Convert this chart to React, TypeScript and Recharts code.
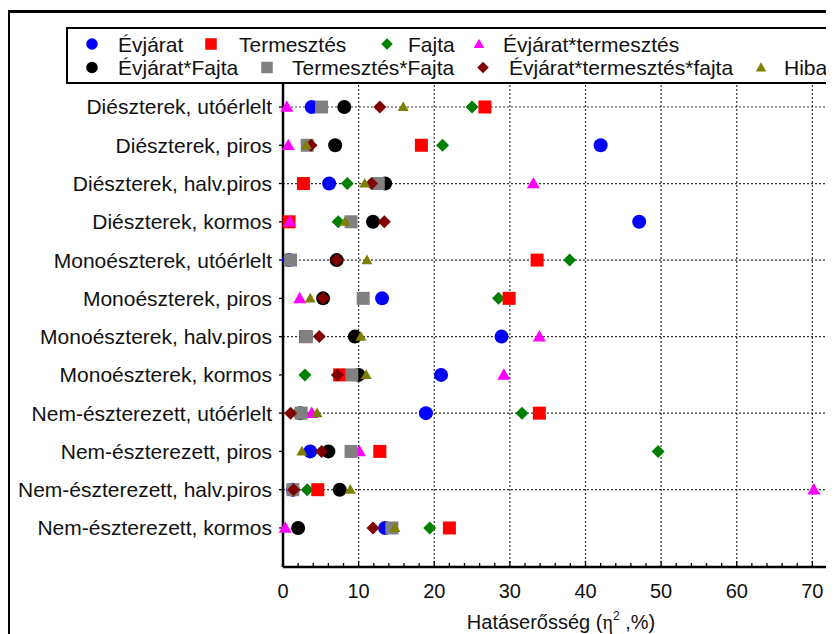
import React from 'react';
import { ScatterChart, Scatter, XAxis, YAxis, ReferenceLine, Legend } from 'recharts';

const FONT = '"Liberation Sans", Arial, Helvetica, sans-serif';

const categories = [
  'Diészterek, utóérlelt',
  'Diészterek, piros',
  'Diészterek, halv.piros',
  'Diészterek, kormos',
  'Monoészterek, utóérlelt',
  'Monoészterek, piros',
  'Monoészterek, halv.piros',
  'Monoészterek, kormos',
  'Nem-észterezett, utóérlelt',
  'Nem-észterezett, piros',
  'Nem-észterezett, halv.piros',
  'Nem-észterezett, kormos',
];

const evjarat = [3.8, 42.0, 6.1, 47.1, 0.8, 13.1, 28.9, 20.9, 18.9, 3.6, 1.3, 13.5];
const termesztes = [26.7, 18.3, 2.7, 0.8, 33.6, 29.9, 3.0, 7.5, 33.9, 12.8, 4.6, 22.0];
const fajta = [25.0, 21.1, 8.5, 7.3, 37.9, 28.5, 3.1, 2.9, 31.6, 49.6, 3.2, 19.4];
const evjTerm = [0.5, 0.7, 33.1, 0.9, 0.9, 2.2, 33.9, 29.2, 3.8, 10.1, 70.2, 0.3];
const evjFajta = [8.1, 6.9, 13.5, 11.9, 7.1, 5.3, 9.5, 10.0, 2.3, 6.0, 7.5, 2.0];
const termFajta = [5.1, 3.2, 12.6, 9.0, 1.0, 10.6, 3.1, 9.1, 2.4, 9.0, 1.3, 14.4];
const evjTermFajta = [12.8, 3.7, 11.7, 13.4, 7.1, 5.3, 4.8, 7.2, 1.0, 5.1, 1.4, 11.9];
const hiba = [15.9, 3.1, 10.8, 8.2, 11.1, 3.6, 10.3, 11.0, 4.5, 2.5, 8.9, 14.8];

const xTicks = [0, 2, 4, 6, 8, 10, 12, 14, 16, 18, 20, 22, 24, 26, 28, 30, 32, 34, 36, 38, 40, 42, 44, 46, 48, 50, 52, 54, 56, 58, 60, 62, 64, 66, 68, 70, 72, 74, 76, 78, 80];
const xLabelTicks = [0, 10, 20, 30, 40, 50, 60, 70];
const xGridValues = [10, 20, 30, 40, 50, 60, 70, 80];
const yTicks = [1, 2, 3, 4, 5, 6, 7, 8, 9, 10, 11, 12];
const yGridRows = [1, 3, 5, 7, 9, 11];

type Kind = 'circle' | 'square' | 'diamond' | 'triangle';

interface SeriesDef {
  name: string;
  values: number[];
  color: string;
  kind: Kind;
  size: number;
}

const series: SeriesDef[] = [
  { name: 'Évjárat', values: evjarat, color: '#0000FF', kind: 'circle', size: 14 },
  { name: 'Termesztés', values: termesztes, color: '#FF0000', kind: 'square', size: 13 },
  { name: 'Fajta', values: fajta, color: '#008000', kind: 'diamond', size: 13 },
  { name: 'Évjárat*termesztés', values: evjTerm, color: '#FF00FF', kind: 'triangle', size: 13 },
  { name: 'Évjárat*Fajta', values: evjFajta, color: '#000000', kind: 'circle', size: 14 },
  { name: 'Termesztés*Fajta', values: termFajta, color: '#808080', kind: 'square', size: 13 },
  { name: 'Évjárat*termesztés*fajta', values: evjTermFajta, color: '#800000', kind: 'diamond', size: 13 },
  { name: 'Hiba', values: hiba, color: '#808000', kind: 'triangle', size: 11 },
];

const drawOrder = [0, 2, 1, 3, 4, 5, 6, 7];

function markerElement(kind: Kind, cx: number, cy: number, size: number, color: string, key?: string) {
  const h = size / 2;
  if (kind === 'circle') return <circle key={key} cx={cx} cy={cy} r={h} fill={color} />;
  if (kind === 'square') return <rect key={key} x={cx - h} y={cy - h} width={size} height={size} fill={color} />;
  if (kind === 'diamond')
    return <polygon key={key} points={`${cx},${cy - h} ${cx + h},${cy} ${cx},${cy + h} ${cx - h},${cy}`} fill={color} />;
  const th = size * 0.88;
  return (
    <polygon
      key={key}
      points={`${cx},${cy - th * 0.58} ${cx + h},${cy + th * 0.42} ${cx - h},${cy + th * 0.42}`}
      fill={color}
    />
  );
}

const legendRows = [
  [
    { idx: 0, mx: 24, tx: 50 },
    { idx: 1, mx: 143, tx: 171 },
    { idx: 2, mx: 319, tx: 340 },
    { idx: 3, mx: 411, tx: 435 },
  ],
  [
    { idx: 4, mx: 24, tx: 50 },
    { idx: 5, mx: 199, tx: 224 },
    { idx: 6, mx: 415, tx: 441 },
    { idx: 7, mx: 693, tx: 716 },
  ],
];

function LegendContent() {
  const rowY = [15, 38.5];
  return (
    <div
      style={{
        position: 'relative',
        width: '100%',
        height: '100%',
        boxSizing: 'border-box',
        border: '2px solid #000',
        background: '#fff',
        fontFamily: FONT,
      }}
    >
      <svg width={900} height={53} style={{ position: 'absolute', left: 0, top: 0 }}>
        {legendRows.map((row, r) =>
          row.map((it) => {
            const s = series[it.idx];
            return (
              <g key={`${r}-${it.idx}`}>
                {markerElement(s.kind, it.mx, rowY[r], s.kind === 'triangle' ? 10.5 : 11.5, s.color)}
                <text x={it.tx} y={rowY[r] + 7.5} fontSize={21} fill="#111" fontFamily={FONT}>
                  {s.name}
                </text>
              </g>
            );
          })
        )}
      </svg>
    </div>
  );
}

function XTick(props: any) {
  const { x, y, payload } = props;
  const v = payload.value as number;
  const isMajor = v % 10 === 0;
  const isLabel = xLabelTicks.indexOf(v) >= 0;
  return (
    <g>
      <line x1={x} x2={x} y1={y} y2={y - (isMajor ? 6 : 4)} stroke="#000" strokeWidth={1.3} />
      {isLabel && (
        <text x={x} y={y + 31} textAnchor="middle" fontSize={20} fill="#111" fontFamily={FONT}>
          {v}
        </text>
      )}
    </g>
  );
}

function XTitle(props: any) {
  const vb = props.viewBox || { x: 0, y: 0, width: 0 };
  return (
    <text x={vb.x + 278} y={vb.y + 62} textAnchor="middle" fontSize={20} fill="#111" fontFamily={FONT}>
      Hatáserősség (
      <tspan fontFamily='"Liberation Serif", "Times New Roman", serif' fontSize={20}>η</tspan>
      <tspan fontSize={12} dy={-9}>2</tspan>
      <tspan dy={9}> ,%)</tspan>
    </text>
  );
}

export default function App() {
  return (
    <div style={{ position: 'relative', width: 826, height: 626, overflow: 'hidden', background: '#fff' }}>
      <div
        style={{
          position: 'absolute',
          left: -1,
          top: 2,
          width: 1000,
          height: 1000,
          border: '3px solid #000',
          boxSizing: 'border-box',
        }}
      />
      <div style={{ position: 'absolute', left: 0, top: 0 }}>
        <ScatterChart width={900} height={700} margin={{ top: 75, right: 20, bottom: 61, left: 0 }}>
          <XAxis
            type="number"
            dataKey="x"
            domain={[0, 80]}
            ticks={xTicks}
            interval={0}
            tickSize={0}
            tickMargin={0}
            tickLine={false}
            tick={<XTick />}
            axisLine={{ stroke: '#000', strokeWidth: 2.5 }}
            height={80}
            label={<XTitle />}
          />
          <YAxis
            type="number"
            dataKey="y"
            domain={[0.373, 13.02]}
            reversed
            ticks={yTicks}
            interval={0}
            width={275}
            tickSize={4}
            tickMargin={7}
            tickLine={{ stroke: '#000', strokeWidth: 1.3 }}
            axisLine={{ stroke: '#000', strokeWidth: 2.5 }}
            tick={{ fontSize: 21, fill: '#111', fontFamily: FONT }}
            tickFormatter={(v: number) => categories[v - 1] || ''}
          />
          {xGridValues.map((v) => (
            <ReferenceLine key={`vx${v}`} x={v} stroke="#333" strokeWidth={1.2} strokeDasharray="2 2" />
          ))}
          {yGridRows.map((v) => (
            <ReferenceLine key={`hy${v}`} y={v} stroke="#333" strokeWidth={1.2} strokeDasharray="2 2" />
          ))}
          <Legend
            verticalAlign="middle"
            layout="horizontal"
            content={<LegendContent />}
            wrapperStyle={{ position: 'absolute', left: 58, top: 19, width: 900, height: 57, margin: 0 }}
          />
          {drawOrder.map((i) => {
            const s = series[i];
            const data = s.values.map((v, k) => ({ x: v, y: k + 1 }));
            return (
              <Scatter
                key={s.name}
                name={s.name}
                data={data}
                fill={s.color}
                isAnimationActive={false}
                shape={(p: any) => markerElement(s.kind, p.cx, p.cy, s.size, s.color)}
              />
            );
          })}
        </ScatterChart>
      </div>
    </div>
  );
}
